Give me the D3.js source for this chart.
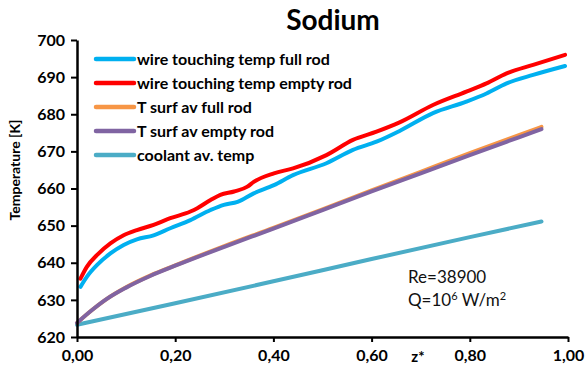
<!DOCTYPE html>
<html><head><meta charset="utf-8">
<script src="https://cdn.jsdelivr.net/npm/d3@7"></script>
<style>body{margin:0;background:#fff}svg{display:block}text{font-family:Lato,"Open Sans",sans-serif}</style>
</head><body><svg id="c" width="585" height="376"></svg>
<script>
const title = "Sodium";
const yTicks = [620,630,640,650,660,670,680,690,700];
const xTicks = [0,0.2,0.4,0.6,0.8,1.0];
const seriesNames = ["wire touching temp full rod","wire touching temp empty rod","T surf av full rod","T surf av empty rod","coolant av. temp"];
const seriesColors = ["#00b0f0","#ff0000","#f79646","#8064a2","#4bacc6"];

const wireFullZ = [0.007,0.02,0.041,0.068,0.095,0.122,0.156,0.19,0.231,0.272,0.299,0.327,0.36,0.401,0.44,0.508,0.562,0.61,0.657,0.725,0.793,0.834,0.875,0.929,0.994];
const wireFullT = [633.5,636.2,639.4,642.5,644.8,646.3,647.4,649.3,651.5,654.2,655.6,656.4,658.7,660.9,663.6,666.8,670.4,672.6,675.5,680.3,683.4,685.6,688.3,690.6,693.0];
const wireEmptyZ = [0.007,0.02,0.041,0.068,0.095,0.122,0.156,0.19,0.231,0.245,0.272,0.292,0.32,0.347,0.36,0.401,0.44,0.508,0.562,0.61,0.657,0.725,0.793,0.834,0.875,0.929,0.994];
const wireEmptyT = [635.7,638.9,642.1,645.2,647.4,648.8,650.2,652.0,653.8,654.7,656.9,658.3,659.2,660.5,661.8,664.1,665.4,669.0,673.1,675.3,677.8,682.5,686.1,688.3,691.0,693.3,696.0];
const surfZ = [0,0.03,0.06,0.1,0.15,0.2,0.3,0.4,0.5,0.6,0.7,0.8,0.9,0.946];
const surfFullT = [623.8,627.2,630.2,633.4,636.6,639.3,644.5,649.4,654.4,659.5,664.5,669.5,674.4,676.6];
const surfEmptyT = [623.8,627.2,630.2,633.3,636.5,639.2,644.3,649.2,654.2,659.2,664.1,669.0,673.8,676.0];
const coolZ = [0,0.2,0.4,0.6,0.8,0.946];
const coolT = [623.3,629.1,635.0,641.0,646.9,651.1];

const svg = d3.select("#c");
const x = d3.scaleLinear().domain([0,1]).range([77,568]);
const y = d3.scaleLinear().domain([620,700]).range([337,40]);

const series = [
  {z: wireFullZ, t: wireFullT},
  {z: wireEmptyZ, t: wireEmptyT},
  {z: surfZ, t: surfFullT},
  {z: surfZ, t: surfEmptyT},
  {z: coolZ, t: coolT}
];
const line = d3.line().x(d=>x(d[0])).y(d=>y(d[1])).curve(d3.curveMonotoneX);
const order = [4,2,3,0,1];
order.forEach(i=>{
  const s = series[i];
  svg.append("path").datum(s.z.map((z,k)=>[z,s.t[k]]))
    .attr("d", line).attr("fill","none").attr("stroke",seriesColors[i])
    .attr("stroke-width",4).attr("stroke-linecap","round").attr("stroke-linejoin","round");
});

// axes
const yAxis = svg.append("g").attr("transform","translate(77,0)")
  .call(d3.axisLeft(y).tickValues(yTicks).tickSize(6).tickSizeOuter(0).tickPadding(6).tickFormat(d3.format("d")));
const xAxis = svg.append("g").attr("transform","translate(0,337)")
  .call(d3.axisBottom(x).tickValues(xTicks).tickSize(5).tickSizeOuter(0).tickPadding(8).tickFormat(d=>d3.format(".2f")(d).replace(".",",")));
[yAxis,xAxis].forEach(g=>{
  g.select(".domain").attr("stroke","#000").attr("stroke-width",2.5);
  g.selectAll(".tick line").attr("stroke","#000").attr("stroke-width",2);
  g.selectAll(".tick text").attr("fill","#000").attr("font-family","Lato").attr("font-weight","bold").attr("font-size",16);
});

svg.append("text").attr("x",333).attr("y",30).attr("text-anchor","middle")
  .attr("font-weight","bold").attr("font-size",28).text(title);

svg.append("text").attr("transform","translate(20,170) rotate(-90)").attr("text-anchor","middle")
  .attr("font-weight","bold").attr("font-size",14).text("Temperature [K]");

svg.append("text").attr("x",418).attr("y",362).attr("text-anchor","middle")
  .attr("font-weight","bold").attr("font-size",15).text("z*");

// legend
const lg = svg.append("g");
seriesNames.forEach((n,i)=>{
  const yy = 59 + i*24;
  lg.append("line").attr("x1",96).attr("x2",134).attr("y1",yy).attr("y2",yy)
    .attr("stroke",seriesColors[i]).attr("stroke-width",4.5).attr("stroke-linecap","round");
  lg.append("text").attr("x",137).attr("y",yy+5.5).attr("font-weight","bold").attr("font-size",16).text(n);
});

// annotation
const ann = svg.append("text").attr("x",408).attr("y",283).attr("font-size",17).attr("fill","#111");
ann.text("Re=38900");
const ann2 = svg.append("text").attr("x",408).attr("y",306).attr("font-size",17).attr("fill","#111");
ann2.append("tspan").text("Q=10");
ann2.append("tspan").attr("font-size",11).attr("dy",-6).text("6");
ann2.append("tspan").attr("dy",6).text(" W/m");
ann2.append("tspan").attr("font-size",11).attr("dy",-6).text("2");
</script></body></html>
